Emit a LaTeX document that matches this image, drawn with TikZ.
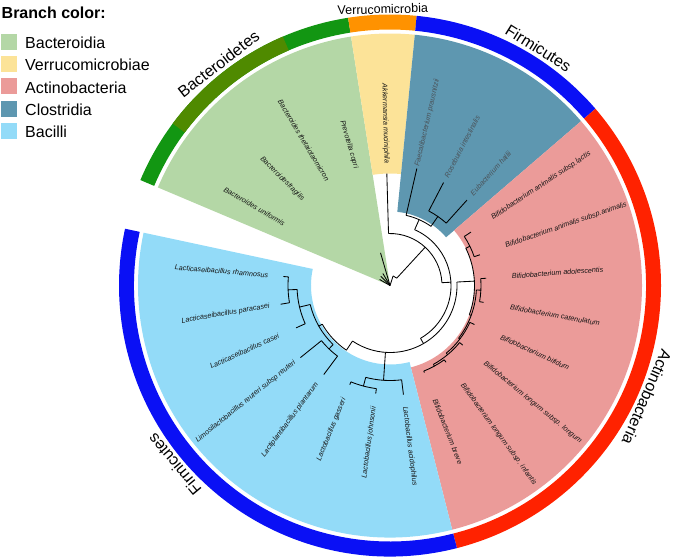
\documentclass[tikz,border=0pt]{standalone}
\usepackage{fontspec}
\setmainfont{Liberation Sans}
\definecolor{cBact}{HTML}{B4D7A6}
\definecolor{cVerr}{HTML}{FCE398}
\definecolor{cActi}{HTML}{EB9B99}
\definecolor{cClos}{HTML}{5E97B0}
\definecolor{cBaci}{HTML}{93DBF8}
\definecolor{rGreen}{HTML}{129612}
\definecolor{rOlive}{HTML}{4F8A00}
\definecolor{rOrange}{HTML}{FF9200}
\definecolor{rBlue}{HTML}{0A10F5}
\definecolor{rRed}{HTML}{FF2200}
\definecolor{clostext}{HTML}{4A5258}
\newcommand{\tbr}[3]{\draw[tree] (#1:#2pt) -- (#1:#3pt);}
\newcommand{\tarc}[3]{\draw[tree] (#2:#1pt) arc[start angle=#2, end angle=#3, radius=#1pt];}
\newcommand{\sect}[5]{\fill[#1] (#2:#4pt) arc[start angle=#2, end angle=#3, radius=#4pt] -- (#3:#5pt) arc[start angle=#3, end angle=#2, radius=#5pt] -- cycle;}
\newcommand{\tipR}[4]{\node[lab, rotate=#2, anchor=west] (#1) at (#2:122pt) {#3#4};}
\newcommand{\tipL}[4]{\node[lab, rotate=#2-180, anchor=east] (#1) at (#2:122pt) {#3#4};}
\begin{document}
\begin{tikzpicture}[x=1pt,y=1pt,
  tree/.style={line width=0.85pt, black},
  lab/.style={font=\fontsize{7.2}{8}\selectfont\itshape, inner sep=0pt, text=black!92},
  clade/.style={font=\fontsize{16}{18}\selectfont, inner sep=0pt, anchor=base},
  legbox/.style={minimum size=16pt, inner sep=0pt, draw=none},
  legtxt/.style={font=\fontsize{16}{18}\selectfont, inner sep=0pt, anchor=base west}]
\useasboundingbox (0,0) rectangle (676,-558);
% ---------- legend ----------
\node[anchor=base west, inner sep=0pt, font=\bfseries\fontsize{16}{18}\selectfont] (title) at (1.5,-18.3) {Branch color:};
\node[legbox, fill=cBact] (k1) at (9,-41.5) {};
\node[legbox, fill=cVerr] (k2) at (9,-63.9) {};
\node[legbox, fill=cActi] (k3) at (9,-86.3) {};
\node[legbox, fill=cClos] (k4) at (9,-108.7) {};
\node[legbox, fill=cBaci] (k5) at (9,-131.1) {};
\node[legtxt] (l1) at (25,-48.3) {Bacteroidia};
\node[legtxt] (l2) at (25,-70.7) {Verrucomicrobiae};
\node[legtxt] (l3) at (25,-93.1) {Actinobacteria};
\node[legtxt] (l4) at (25,-115.5) {Clostridia};
\node[legtxt] (l5) at (25,-137.9) {Bacilli};
\begin{scope}[shift={(390,-285.5)}]
% ---------- highlight sectors ----------
\sect{cBact}{98.9}{157.1}{4}{252}
\sect{cVerr}{84.35}{98.9}{112}{252}
\sect{cClos}{40.7}{84.35}{74}{252}
\sect{cActi}{-75.7}{40.7}{84.5}{252}
\sect{cBaci}{-192.1}{-75.7}{79}{252}
% ---------- outer ring ----------
\sect{rGreen}{98.9}{157.1}{256}{271}
\sect{rOlive}{113.3}{143.3}{256}{271}
\sect{rOrange}{84.35}{98.9}{256}{271}
\sect{rBlue}{40.7}{84.35}{256}{271}
\sect{rRed}{-75.7}{40.7}{256}{271}
\sect{rBlue}{-192.1}{-75.7}{256}{271}
% ---------- tree ----------
% root and Bacteroidia
\tbr{72}{0}{10}
\tarc{10}{72}{47.4}
\tbr{106.18}{0}{34}
\tbr{120.73}{0}{14}
\tbr{135.28}{0}{13}
\tbr{149.83}{0}{12}
% X node
\tbr{47.4}{10}{52}
\tarc{52}{91.63}{3.1}
\tbr{91.63}{52}{112}
% Z node
\tbr{3.1}{52}{61}
\tarc{61}{66.17}{-60}
% Clostridia
\tbr{66.17}{61}{72}
\tarc{72}{77.08}{55.26}
\tbr{77.08}{72}{120}
\tbr{55.26}{72}{84}
\tarc{84}{62.53}{47.98}
\tbr{62.53}{84}{116}
\tbr{47.98}{84}{115}
% W node
\tbr{-60}{61}{67}
\tarc{67}{2.98}{-124}
% Bifidobacterium
\tbr{2.98}{67}{84.5}
\tarc{84.5}{26.16}{-20.2}
\tbr{26.16}{84.5}{89}
\tarc{89}{33.43}{18.88}
\tbr{33.43}{89}{97}
\tbr{18.88}{89}{95}
\tbr{-20.2}{84.5}{86.5}
\tarc{86.5}{-2.95}{-37.5}
\tbr{-2.95}{86.5}{91}
\tarc{91}{4.33}{-10.22}
\tbr{4.33}{91}{96.5}
\tbr{-10.22}{91}{95}
\tbr{-37.5}{86.5}{88}
\tarc{88}{-24.78}{-50.2}
\tbr{-24.78}{88}{93}
\tbr{-50.2}{88}{90}
\tarc{90}{-39.33}{-61.16}
\tbr{-39.33}{90}{94}
\tbr{-61.16}{90}{92}
\tarc{92}{-53.88}{-68.43}
\tbr{-53.88}{92}{95}
\tbr{-68.43}{92}{93.5}
% Lactobacillus acidophilus group
\tbr{-93.9}{67}{95}
\tarc{95}{-82.98}{-104.8}
\tbr{-82.98}{95}{110}
\tbr{-104.8}{95}{104}
\tarc{104}{-97.53}{-112.08}
\tbr{-97.53}{104}{109}
\tbr{-112.08}{104}{107}
% remaining Bacilli
\tbr{-124}{67}{78}
\tarc{78}{-124}{-150.3}
\tbr{-150.3}{78}{82}
\tarc{82}{-133.9}{-166.6}
\tbr{-133.9}{82}{88}
\tarc{88}{-126.63}{-141.18}
\tbr{-126.63}{88}{111}
\tbr{-141.18}{88}{115}
\tbr{-166.6}{82}{93}
\tarc{93}{-155.73}{-177.55}
\tbr{-155.73}{93}{103}
\tbr{-177.55}{93}{102}
\tarc{102}{-170.28}{-184.83}
\tbr{-170.28}{102}{111}
\tbr{-184.83}{102}{107}
% ---------- tip labels ----------
\tipL{t0}{149.83}{}{Bacteroides uniformis}
\tipL{t1}{135.28}{}{Bacteroidesfragilis}
\tipL{t2}{120.73}{}{Bacteroides thetaiotaomicron}
\tipL{t3}{106.18}{}{Prevotella copri}
\tipL{t4}{91.63}{}{Akkermansia muciniphila}
\tipR{t5}{77.08}{\color{clostext}}{Faecalibacterium prausnitzii}
\tipR{t6}{62.53}{\color{clostext}}{Roseburia intestinalis}
\tipR{t7}{47.98}{\color{clostext}}{Eubacterium hallii}
\tipR{t8}{33.43}{}{Bifidobacterium animalis subsp.lactis}
\tipR{t9}{18.88}{}{Bifidobacterium animalis subsp.animalis}
\tipR{t10}{4.33}{}{Bifidobacterium adolescentis}
\tipR{t11}{-10.22}{}{Bifidobacterium catenulatum}
\tipR{t12}{-24.78}{}{Bifidobacterium bifidum}
\tipR{t13}{-39.33}{}{Bifidobacterium longum subsp. longum}
\tipR{t14}{-53.88}{}{Bifidobacterium longum subsp. infantis}
\tipR{t15}{-68.43}{}{Bifidobacterium breve}
\tipR{t16}{-82.98}{}{Lactobacillus acidophilus}
\tipL{t17}{-97.53}{}{Lactobacillus johnsonii}
\tipL{t18}{-112.08}{}{Lactobacillus gasseri}
\tipL{t19}{-126.63}{}{Lactiplantibacillus plantarum}
\tipL{t20}{-141.18}{}{Limosilactobacillus reuteri subsp reuteri}
\tipL{t21}{-155.73}{}{Lacticaseibacillus casei}
\tipL{t22}{-170.28}{}{Lacticaseibacillus paracasei}
\tipL{t23}{-184.83}{}{Lacticaseibacillus rhamnosus}
% ---------- clade labels ----------
\node[clade, rotate=37.75] (c1) at (127.75:274.5pt) {Bacteroidetes};
\node[clade, font=\fontsize{12.5}{14}\selectfont, rotate=1.5] (c2) at (91.5:272pt) {Verrucomicrobia};
\node[clade, rotate=-32] (c3) at (58:274.5pt) {Firmicutes};
\node[clade, rotate=-113.5] (c4) at (-23.5:274.5pt) {Actinobacteria};
\node[clade, rotate=129.7] (c5) at (-140.3:274.5pt) {Firmicutes};
\end{scope}
\end{tikzpicture}
\end{document}
